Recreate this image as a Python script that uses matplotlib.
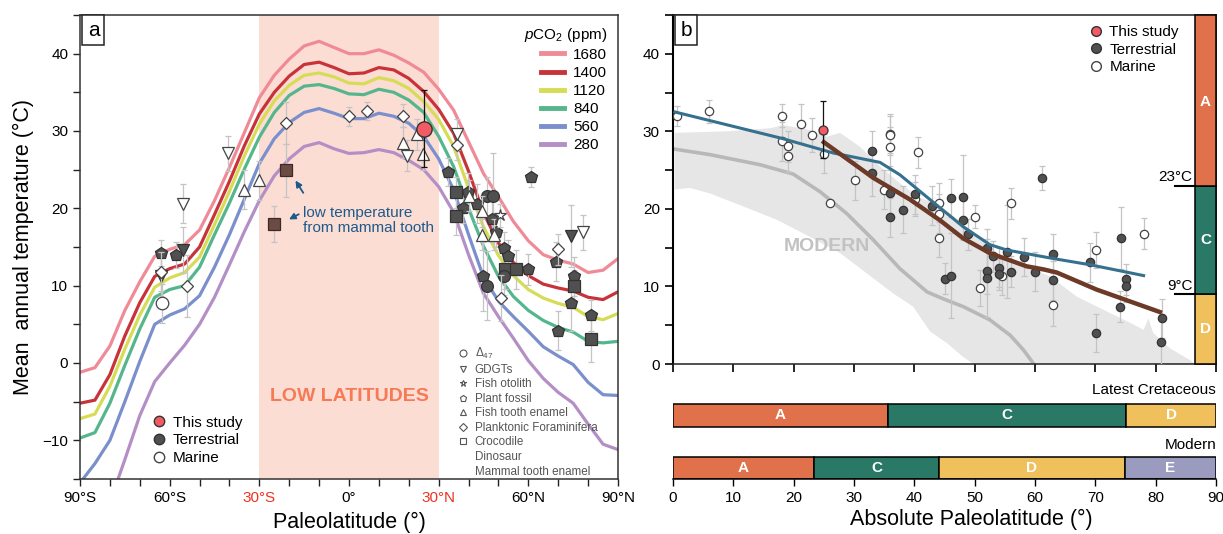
import matplotlib
matplotlib.use("Agg")
import matplotlib.pyplot as plt
from matplotlib.lines import Line2D
from matplotlib.ticker import MultipleLocator

plt.rcParams["font.family"] = ["Liberation Sans", "DejaVu Sans"]
plt.rcParams["mathtext.fontset"] = "custom"
plt.rcParams["mathtext.rm"] = "Liberation Sans"
plt.rcParams["mathtext.it"] = "Liberation Sans:italic"
plt.rcParams["mathtext.bf"] = "Liberation Sans:bold"

# ---------------------------------------------------------------------------
# Panel a: simulated zonal mean temperature per pCO2 level
# ---------------------------------------------------------------------------
lat_grid = [-90, -85, -80, -75, -70, -65, -60, -55, -50, -45, -40, -35, -30,
            -25, -20, -15, -10, -5, 0, 5, 10, 15, 20, 25, 30, 35, 40, 45,
            50, 55, 60, 65, 70, 75, 80, 85, 90]
t_1680 = [-1.2, -0.6, 2.2, 6.8, 10.5, 13.8, 14.7, 15.3, 17.2, 21.0, 25.3, 29.8,
          34.3, 37.2, 39.3, 41.0, 41.6, 40.8, 40.0, 40.0, 40.5, 39.8, 38.8,
          37.6, 35.4, 32.7, 28.6, 24.5, 21.5, 18.3, 15.8, 14.0, 13.3, 12.8,
          11.7, 12.0, 13.5]
t_1400 = [-5.2, -4.8, -1.5, 3.5, 7.8, 11.2, 12.2, 12.8, 15.0, 19.2, 23.5, 28.1,
          32.2, 35.0, 37.1, 38.6, 38.9, 38.2, 37.4, 37.5, 38.2, 37.9, 36.8,
          35.1, 32.8, 29.7, 24.8, 19.4, 15.5, 13.0, 11.3, 10.2, 9.7, 9.3, 8.5,
          8.2, 9.2]
t_1120 = [-7.2, -6.6, -3.0, 1.8, 6.2, 9.8, 11.0, 11.7, 13.7, 17.9, 22.2, 26.8,
          30.9, 33.9, 35.9, 37.2, 37.5, 37.0, 36.2, 36.1, 36.9, 36.5, 35.5,
          33.8, 31.5, 28.0, 22.6, 17.6, 13.9, 11.3, 9.5, 8.4, 7.7, 7.2, 6.0,
          5.6, 6.4]
t_840 = [-9.7, -9.0, -5.2, -0.3, 4.4, 8.5, 9.5, 10.0, 12.4, 16.6, 20.7, 25.1,
         29.2, 32.4, 34.6, 35.8, 36.0, 35.5, 34.8, 34.7, 35.4, 35.0, 34.0, 32.4,
         29.3, 25.4, 20.0, 15.1, 11.2, 8.6, 6.8, 5.5, 4.6, 4.0, 2.8, 2.6, 2.8]
t_560 = [-15.5, -13.0, -10.0, -5.0, 0.2, 5.0, 6.2, 7.0, 8.7, 12.4, 16.6, 21.2,
         25.8, 29.0, 31.1, 32.4, 32.9, 32.3, 31.6, 31.6, 32.3, 31.9, 31.0, 29.3,
         26.4, 22.4, 16.6, 11.1, 8.0, 6.0, 4.1, 2.1, 0.9, -0.2, -2.5, -4.1, -4.2]
lat_280 = lat_grid[2:]
t_280 = [-18.0, -12.5, -6.8, -2.4, 0.0, 2.3, 5.0, 8.5, 12.7, 17.0, 21.0, 24.2,
         26.4, 28.0, 28.5, 27.7, 27.1, 27.2, 27.6, 27.2, 26.2, 25.0, 22.8, 19.5,
         14.0, 9.0, 6.0, 3.2, 0.3, -2.0, -3.8, -5.2, -7.9, -10.5, -11.2]
pco2_labels = ["1680", "1400", "1120", "840", "560", "280"]
pco2_colors = ["#f08a96", "#c8333a", "#d6dc55", "#55b68e", "#7a8fcc", "#b48fc6"]

# proxy data, panel a (paleolatitude, temperature, 1-sigma)
plant_lat = [-62.9, -58.0, 33.2, 38.0, 39.9, 42.9, 47.7, 49.2, 52.0, 53.3, 60.0,
             44.9, 60.9, 69.2, 75.4, 74.2, 70.0, 81.0]
plant_t = [14.2, 14.0, 24.7, 20.1, 22.1, 20.6, 18.6, 17.0, 14.9, 13.9, 12.1,
           11.2, 24.0, 13.1, 11.2, 7.7, 4.2, 6.2]
plant_err = [1.7, 1.7, 1.8, 2.0, 2.5, 2.5, 3.0, 2.0, 2.0, 2.0, 2.0, 4.5, 1.3,
             2.5, 2.5, 3.5, 2.5, 2.0]
gdgt_ter_lat = [-55.4, -62.8, 74.2]
gdgt_ter_t = [14.6, 11.2, 16.4]
gdgt_ter_err = [3.0, 2.5, 4.0]
croc_lat = [35.9, 35.9, 52.2, 55.9, 75.4, 81.0]
croc_t = [22.1, 19.0, 12.1, 12.1, 10.0, 3.1]
croc_err = [2.0, 2.5, 2.5, 2.5, 2.0, 3.0]
d47_ter_lat = [46.1, 48.1, 52.0, 46.3]
d47_ter_t = [21.6, 21.6, 11.3, 10.0]
d47_ter_err = [2.5, 5.5, 2.5, 4.5]
mammal_lat = [-21.0, -25.2]
mammal_t = [24.9, 18.0]
mammal_err = [3.4, 2.3]
foram_lat = [-62.8, -54.3, -21.0, 0.1, 5.9, 18.2, 36.2, 50.9, 70.0]
foram_t = [11.8, 10.0, 31.0, 31.9, 32.6, 32.0, 28.2, 8.4, 14.7]
foram_err = [2.5, 4.0, 2.7, 1.2, 1.2, 1.5, 2.0, 3.0, 2.0]
gdgt_mar_lat = [-55.6, -40.4, 19.3, 36.2, 78.2]
gdgt_mar_t = [20.6, 27.1, 26.8, 29.6, 16.9]
gdgt_mar_err = [2.5, 2.3, 2.0, 2.0, 2.3]
fish_lat = [-35.0, -30.0, 18.2, 22.7, 24.9, 40.2, 44.4, 44.4, 48.5]
fish_t = [22.4, 23.6, 28.5, 29.6, 27.0, 21.6, 19.6, 16.6, 16.6]
fish_err = [2.5, 2.5, 2.0, 2.0, 2.0, 2.0, 2.0, 2.0, 2.0]
d47_mar_lat = [-62.7]
d47_mar_t = [7.7]
d47_mar_err = [2.5]
otolith_lat = [50.5]
otolith_t = [19.1]
otolith_err = [1.5]
study_lat = [25.1]
study_t = [30.3]
study_err = [5.0]

# ---------------------------------------------------------------------------
# Panel b: absolute paleolatitude compilation
# ---------------------------------------------------------------------------
mar_abs = [0.6, 6.0, 18.1, 18.1, 19.1, 19.1, 21.2, 23.1, 25.0, 26.0, 30.1, 35.0,
           36.0, 36.0, 36.0, 40.1, 40.6, 44.1, 44.1, 44.1, 50.0, 50.9, 54.6,
           56.0, 63.0, 70.1, 78.1]
mar_t = [32.0, 32.6, 32.0, 28.7, 28.1, 26.8, 31.0, 29.5, 27.1, 20.7, 23.7, 22.5,
         29.7, 29.5, 28.0, 21.3, 27.3, 20.8, 19.4, 16.3, 19.0, 9.8, 11.4, 20.7,
         7.6, 14.7, 16.8]
mar_err = [1.3, 1.5, 1.5, 2.5, 2.0, 2.0, 2.5, 2.2, 2.5, 0.0, 2.5, 2.5, 2.5, 2.5,
           2.5, 2.2, 2.0, 2.5, 2.5, 2.5, 1.5, 2.3, 2.5, 2.0, 2.7, 2.3, 2.0]
ter_abs = [33.0, 33.0, 36.0, 36.0, 38.1, 40.1, 42.9, 45.1, 46.1, 46.1, 48.0,
           48.0, 48.9, 52.1, 52.1, 52.1, 53.0, 54.0, 54.0, 55.3, 56.0, 58.1,
           60.0, 61.1, 63.0, 63.0, 69.1, 70.1, 74.3, 74.1, 75.1, 75.1, 81.1, 80.9]
ter_t = [27.5, 24.6, 22.0, 18.9, 19.9, 21.9, 20.4, 11.0, 11.4, 21.4, 21.5, 18.6,
         16.7, 14.9, 12.0, 11.1, 13.9, 12.4, 11.6, 14.5, 11.9, 13.8, 11.9, 24.0,
         14.2, 10.8, 13.1, 4.0, 16.3, 7.4, 10.9, 10.0, 5.9, 2.9]
ter_err = [2.5, 3.0, 3.0, 2.5, 3.0, 2.5, 2.5, 2.0, 5.5, 2.5, 5.5, 2.5, 2.0, 2.5,
           3.0, 5.0, 2.0, 2.5, 2.0, 6.0, 2.0, 2.5, 2.5, 1.5, 2.5, 2.5, 2.5, 2.5,
           4.0, 2.0, 2.0, 2.0, 2.5, 3.0]
study_abs = [24.9]
study_abs_t = [30.2]
study_abs_err = [3.7]

warm_lat = [0.3, 18.0, 26.6, 34.3, 37.6, 42.6, 48.1, 52.5, 55.3, 63.0, 69.1, 78.0]
warm_t = [32.5, 29.1, 27.2, 26.0, 24.4, 21.2, 17.7, 15.4, 14.7, 13.6, 12.8, 11.4]
fit_lat = [25.0, 33.2, 39.3, 44.3, 48.1, 52.5, 58.6, 61.4, 63.6, 70.2, 80.7]
fit_t = [28.6, 24.0, 21.2, 18.5, 16.2, 14.3, 12.6, 12.2, 11.8, 9.6, 6.7]
modern_lat = [0.3, 6.1, 14.4, 19.9, 24.4, 28.8, 33.2, 37.6, 42.1, 44.8, 48.1,
              52.5, 55.9, 58.1, 59.8]
modern_t = [27.7, 27.0, 25.7, 24.5, 22.2, 19.4, 16.0, 12.3, 9.3, 8.4, 7.4, 5.7,
            3.7, 1.8, 0.0]
band_up_lat = [0.3, 8.9, 16.1, 18.3, 22.7, 25.5, 27.7, 31.0, 34.3, 37.6, 40.9,
               43.5, 45.9, 49.8, 53.7, 58.1, 62.5, 66.9, 71.3, 75.8, 78.0, 78.8,
               79.6, 82.4, 85.7, 86.5]
band_up_t = [29.8, 30.0, 30.4, 30.8, 30.2, 29.3, 29.8, 28.0, 25.5, 23.3, 21.4,
             20.8, 19.4, 16.9, 14.3, 12.6, 11.3, 8.7, 7.0, 5.3, 4.4, 5.9, 4.0,
             2.0, 0.5, 0.0]
band_lo_lat = [0.3, 2.8, 6.1, 11.7, 17.2, 22.7, 27.7, 32.1, 36.5, 39.8, 42.6,
               45.4, 48.1, 49.8]
band_lo_t = [22.5, 22.7, 22.0, 20.3, 18.6, 16.4, 14.3, 11.7, 9.1, 7.4, 4.2, 2.7,
             0.9, 0.0]

# climate zones by temperature and by latitude
zone_t_edges = [0, 9, 23, 45]
zone_t_names = ["D", "C", "A"]
cret_edges = [0, 35.6, 75.1, 90]
cret_names = ["A", "C", "D"]
modern_edges = [0, 23.4, 44.1, 74.9, 90]
modern_names = ["A", "C", "D", "E"]
zone_colors = {"A": "#e0714b", "C": "#2a7966", "D": "#efc05c", "E": "#9b9bc0"}

# ---------------------------------------------------------------------------
# Figure layout (pixel based)
# ---------------------------------------------------------------------------
W, H = 1223, 534
fig = plt.figure(figsize=(W / 100, H / 100), dpi=100)


def px_axes(x0, y0, x1, y1):
    return fig.add_axes([x0 / W, 1 - y1 / H, (x1 - x0) / W, (y1 - y0) / H])


ax = px_axes(80, 15, 618, 479)
axb = px_axes(673, 15, 1216, 364)
axz = px_axes(673, 380, 1216, 479)

ERR = "#c4c4c4"
TER_FC, TER_EC = "#505050", "#333333"
MAR_EC = "#444444"
RED = "#f25a64"


def points(a, x, y, e, marker, fc, ec, ms, z=5, ecol=ERR, mew=0.9):
    a.errorbar(x, y, yerr=e, fmt="none", ecolor=ecol, elinewidth=0.9,
               capsize=2.5, capthick=0.9, zorder=z - 1)
    a.plot(x, y, ls="none", marker=marker, mfc=fc, mec=ec, ms=ms, mew=mew,
           zorder=z)


# ---- panel a ----
ax.set_xlim(-90, 90)
ax.set_ylim(-15, 45)
ax.axvspan(-30, 30, color="#fcddd4", lw=0, zorder=0)
curves = [t_1680, t_1400, t_1120, t_840, t_560, t_280]
for t, c, lab in zip(curves, pco2_colors, pco2_labels):
    xs = lat_280 if lab == "280" else lat_grid
    ax.plot(xs, t, color=c, lw=2.3, zorder=2, solid_capstyle="round")

points(ax, plant_lat, plant_t, plant_err, "p", TER_FC, TER_EC, 9)
points(ax, gdgt_ter_lat, gdgt_ter_t, gdgt_ter_err, "v", TER_FC, TER_EC, 8.5)
points(ax, croc_lat, croc_t, croc_err, "s", TER_FC, TER_EC, 8.5)
points(ax, d47_ter_lat, d47_ter_t, d47_ter_err, "o", TER_FC, TER_EC, 8.5)
points(ax, mammal_lat, mammal_t, mammal_err, "s", "#6b4c44", "#3d2a25", 8.5)
points(ax, foram_lat, foram_t, foram_err, "D", "white", MAR_EC, 6.5, z=6)
points(ax, gdgt_mar_lat, gdgt_mar_t, gdgt_mar_err, "v", "white", MAR_EC, 8.5, z=6)
points(ax, fish_lat, fish_t, fish_err, "^", "white", MAR_EC, 8.5, z=6)
points(ax, d47_mar_lat, d47_mar_t, d47_mar_err, "o", "white", MAR_EC, 9, z=6)
points(ax, otolith_lat, otolith_t, otolith_err, "*", "white", MAR_EC, 9, z=6)
points(ax, study_lat, study_t, study_err, "o", RED, "#333333", 11, z=8,
       ecol="#111111", mew=1.0)

ax.text(0, -4.3, "LOW LATITUDES", ha="center", va="center", color="#f57a55",
        fontsize=14, fontweight="bold", zorder=3)
ax.text(-15.5, 18.4, "low temperature\nfrom mammal tooth", ha="left",
        va="center", color="#1d5a8c", fontsize=11, linespacing=1.05, zorder=7)
ax.annotate("", xy=(mammal_lat[0] + 2.6, mammal_t[0] - 1.0),
            xytext=(mammal_lat[0] + 6.2, mammal_t[0] - 3.2),
            arrowprops=dict(arrowstyle="-|>", color="#1d5a8c", lw=1.3,
                            mutation_scale=9), zorder=7)
ax.annotate("", xy=(mammal_lat[1] + 4.3, mammal_t[1] + 0.4),
            xytext=(mammal_lat[1] + 9.2, mammal_t[1] + 1.4),
            arrowprops=dict(arrowstyle="-|>", color="#1d5a8c", lw=1.3,
                            mutation_scale=9), zorder=7)

ax.set_xticks([-90, -60, -30, 0, 30, 60, 90])
ax.set_xticklabels(["90°S", "60°S", "30°S", "0°", "30°N", "60°N", "90°N"])
for lbl in ax.get_xticklabels():
    if lbl.get_text() in ("30°S", "30°N"):
        lbl.set_color("#ee3322")
ax.xaxis.set_minor_locator(MultipleLocator(10))
ax.set_yticks([-10, 0, 10, 20, 30, 40])
ax.yaxis.set_minor_locator(MultipleLocator(5))
ax.tick_params(which="both", direction="out", length=5, width=1,
               labelsize=11, color="#222222")
for s in ax.spines.values():
    s.set_color("#333333")
    s.set_linewidth(1.1)
ax.set_xlabel("Paleolatitude (°)", fontsize=15.5, labelpad=5)
ax.set_ylabel("Mean  annual temperature (°C)", fontsize=15.5, labelpad=6)

# pCO2 legend
h_co2 = [Line2D([], [], color=c, lw=3.5) for c in pco2_colors]
leg1 = ax.legend(h_co2, pco2_labels, title=r"$p$CO$_2$ (ppm)", loc="upper right",
                 bbox_to_anchor=(1.0, 1.0), frameon=False, fontsize=11,
                 title_fontsize=11, handlelength=1.5, handletextpad=0.6,
                 labelspacing=0.27, borderaxespad=0.3)
leg1._legend_box.align = "right"
ax.add_artist(leg1)

# source legend
h_src = [Line2D([], [], ls="none", marker="o", mfc=RED, mec="#333333", ms=7.5),
         Line2D([], [], ls="none", marker="o", mfc=TER_FC, mec=TER_EC, ms=7.5),
         Line2D([], [], ls="none", marker="o", mfc="white", mec=MAR_EC, ms=7.5)]
leg2 = ax.legend(h_src, ["This study", "Terrestrial", "Marine"], loc="lower left",
                 bbox_to_anchor=(0.11, 0.0), frameon=False, fontsize=11,
                 handlelength=0.8, handletextpad=0.5, labelspacing=0.25)
ax.add_artist(leg2)

# proxy symbol legend
sym = ["o", "v", "*", "p", "^", "D", "s", None, None]
sym_labels = [r"$\Delta_{47}$", "GDGTs", "Fish otolith", "Plant fossil",
              "Fish tooth enamel", "Planktonic Foraminifera", "Crocodile",
              "Dinosaur", "Mammal tooth enamel"]
h_sym = [Line2D([], [], ls="none", marker=m if m else "None", mfc="white",
                mec="#555555", ms=5 if m != "D" else 4, mew=0.8) for m in sym]
leg3 = ax.legend(h_sym, sym_labels, loc="lower left", bbox_to_anchor=(0.69, -0.012),
                 frameon=False, fontsize=8.4, handlelength=0.9,
                 handletextpad=0.5, labelspacing=0.22, borderaxespad=0.2)
for txt in leg3.get_texts():
    txt.set_color("#555555")

ax.annotate("a", xy=(0, 1), xycoords="axes fraction", xytext=(5.5, -4),
            textcoords="offset points", ha="left", va="top", fontsize=15,
            bbox=dict(boxstyle="square,pad=0.25", fc="white", ec="#222222",
                      lw=1.1), zorder=10)

# ---- panel b ----
axb.set_xlim(0, 90)
axb.set_ylim(0, 45)
band_x = band_up_lat + band_lo_lat[::-1]
band_y = band_up_t + band_lo_t[::-1]
axb.fill(band_x, band_y, color="#e6e6e6", lw=0, zorder=0)
axb.plot(modern_lat, modern_t, color="#b8b8b8", lw=2.6, zorder=1)
axb.text(25.5, 15.1, "MODERN", color="#c2c2c2", fontsize=14, fontweight="bold",
         ha="center", va="center", zorder=1)

points(axb, mar_abs, mar_t, mar_err, "o", "white", MAR_EC, 6, z=4)
points(axb, ter_abs, ter_t, ter_err, "o", TER_FC, TER_EC, 6, z=4)
axb.plot(warm_lat, warm_t, color="#35718f", lw=2.2, zorder=6)
axb.plot(fit_lat, fit_t, color="#6e3a28", lw=3.2, zorder=6)
points(axb, study_abs, study_abs_t, study_abs_err, "o", RED, "#333333", 6.5,
       z=8, ecol="#111111")

# temperature-defined zones on the right edge
for lo, hi, name in zip(zone_t_edges[:-1], zone_t_edges[1:], zone_t_names):
    axb.bar(88.25, hi - lo, bottom=lo, width=3.5, color=zone_colors[name],
            edgecolor="black", lw=1.1, zorder=9, clip_on=False)
    axb.text(88.25, (lo + hi) / 2 if name != "A" else 33.8, name, color="white",
             fontsize=11, fontweight="bold", ha="center", va="center", zorder=10)
for edge in zone_t_edges[1:3]:
    axb.plot([83.2, 86.5], [edge, edge], color="black", lw=1.5, zorder=9)
    axb.text(86.1, edge + 0.2, f"{edge}°C", ha="right", va="bottom",
             fontsize=11, zorder=10)

axb.set_xticks(range(0, 91, 10))
axb.set_xticklabels([])
axb.set_yticks([0, 10, 20, 30, 40])
axb.yaxis.set_minor_locator(MultipleLocator(5))
axb.tick_params(which="both", direction="out", length=6, width=1.2,
                labelsize=11)
for s in axb.spines.values():
    s.set_color("#222222")
    s.set_linewidth(1.1)
axb.spines["left"].set_linewidth(1.5)
axb.spines["left"].set_color("black")

h_b = [Line2D([], [], ls="none", marker="o", mfc=RED, mec="#333333", ms=7),
       Line2D([], [], ls="none", marker="o", mfc=TER_FC, mec=TER_EC, ms=7),
       Line2D([], [], ls="none", marker="o", mfc="white", mec=MAR_EC, ms=7)]
axb.legend(h_b, ["This study", "Terrestrial", "Marine"], loc="upper right",
           bbox_to_anchor=(0.957, 1.01), frameon=False, fontsize=11,
           handlelength=0.8, handletextpad=0.5, labelspacing=0.22)

axb.annotate("b", xy=(0, 1), xycoords="axes fraction", xytext=(5.5, -4),
             textcoords="offset points", ha="left", va="top", fontsize=15,
             bbox=dict(boxstyle="square,pad=0.25", fc="white", ec="#222222",
                       lw=1.1), zorder=10)

# ---- zone bars ----
axz.set_xlim(0, 90)
axz.set_ylim(0, 1)
rows = [(cret_edges, cret_names, 0.642, 0.233, "Latest Cretaceous", 0.9),
        (modern_edges, modern_names, 0.111, 0.222, "Modern", 0.343)]
for edges, names, yc, hgt, title, ty in rows:
    for lo, hi, name in zip(edges[:-1], edges[1:], names):
        axz.barh(yc, hi - lo, left=lo, height=hgt, color=zone_colors[name],
                 edgecolor="black", lw=1.1)
        axz.text((lo + hi) / 2, yc, name, color="white", fontsize=11,
                 fontweight="bold", ha="center", va="center")
    axz.text(90, ty, title, ha="right", va="center", fontsize=11)
for side in ("left", "right", "top"):
    axz.spines[side].set_visible(False)
axz.spines["bottom"].set_linewidth(1.1)
axz.set_yticks([])
axz.set_xticks(range(0, 91, 10))
axz.tick_params(axis="x", direction="out", length=5, width=1, labelsize=11)
axz.set_xlabel("Absolute Paleolatitude (°)", fontsize=15.5, labelpad=4)
axz.xaxis.set_label_coords(0.549, -0.3)

fig.savefig("out.png", dpi=100)
